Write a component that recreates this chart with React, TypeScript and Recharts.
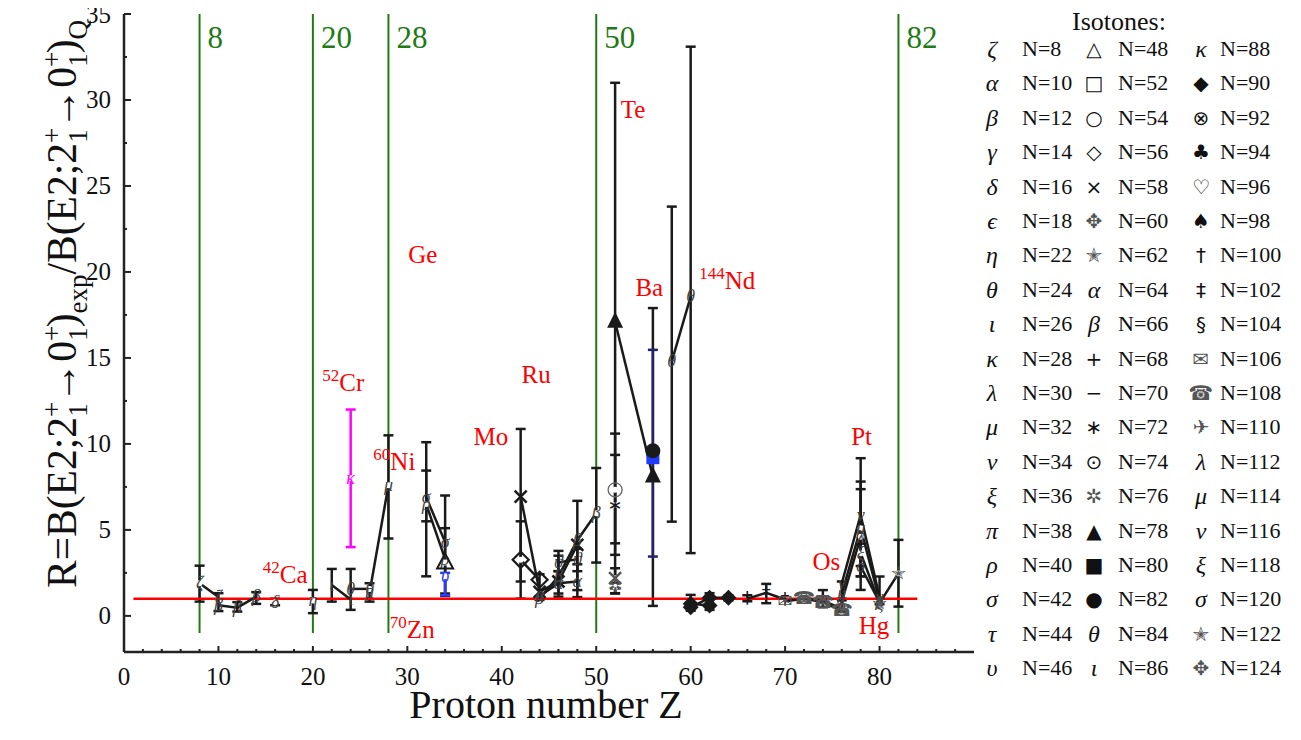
import React from 'react';
import { ComposedChart, Line, XAxis, YAxis, ErrorBar, ReferenceLine, ReferenceDot } from 'recharts';

const SERIF = '"Liberation Serif", "Times New Roman", serif';
const INK = '#1a1a1a';
const GREEN = '#217a14';

// [Z, R, error-bar low, error-bar high]
type Pt = [number, number, number?, number?];

// isotone chains
const chainN8: Pt[] = [[8, 1.9, 0.83, 2.92], [10, 1.1]];
const chainN10: Pt[] = [[10, 0.62, 0.28, 1.32], [12, 0.48, 0.25, 0.8], [14, 1.12, 0.7, 1.38]];
const pointN16: Pt[] = [[16, 0.8, 0.62, 1.0]];
const pointN22: Pt[] = [[20, 0.9, 0.16, 1.51]];
const chainN26: Pt[] = [[22, 1.8, 0.83, 2.73], [24, 0.95, 0.35, 2.73]];
const chainN24: Pt[] = [[24, 1.57], [26, 1.57, 0.83, 1.9]];
const chainN32: Pt[] = [[26, 1.35], [28, 7.6, 4.5, 10.5]];
const pointCr52: Pt[] = [[24, 8.0, 4.0, 12.0]];
const chainN42: Pt[] = [[32, 6.9, 2.3, 10.1], [34, 4.3, 1.16, 7.0]];
const chainN40: Pt[] = [[32, 6.5, 5.5, 8.45], [34, 3.3]];
const pointN48: Pt[] = [[34, 3.1, 1.3, 5.1]];
const pointN46: Pt[] = [[34, 2.3, 1.2, 2.5]];
const chainN58: Pt[] = [[42, 6.94, 1.0, 10.87], [44, 1.4, 0.93, 2.42], [46, 2.0, 1.12, 3.78], [48, 4.13, 1.09, 6.69]];
const chainN56: Pt[] = [[42, 3.26, 2.0, 5.5], [44, 2.1]];
const chainN66: Pt[] = [[44, 1.0], [46, 2.3], [48, 4.4], [50, 5.97, 3.1, 8.6]];
const chainN64: Pt[] = [[44, 1.15], [46, 1.9, 1.3, 2.6], [48, 2.0, 1.5, 3.0]];
const chainN62: Pt[] = [[46, 3.1, 2.6, 3.5], [48, 3.3, 2.6, 3.9]];
const chainN78: Pt[] = [[52, 17.1, 1.3, 31.0], [56, 8.1, 0.58, 17.9]];
const pointN54: Pt[] = [[52, 7.33, 4.22, 10.6]];
const pointN72: Pt[] = [[52, 6.45, 3.55, 9.36]];
const pointTe58: Pt[] = [[52, 2.19, 1.6, 2.77]];
const pointN76: Pt[] = [[52, 1.7, 1.32, 1.9]];
const pointN82: Pt[] = [[56, 9.6]];
const pointN80: Pt[] = [[56, 9.2, 3.45, 15.47]];
const chainN84: Pt[] = [[58, 14.8, 5.48, 23.8], [60, 18.56, 3.65, 33.1]];
const chainN90: Pt[] = [[60, 0.5, 0.3, 1.22], [62, 1.05, 0.6, 1.32], [64, 1.05, 0.9, 1.2]];
const chainN92: Pt[] = [[60, 0.7], [62, 0.6, 0.35, 1.0]];
const chainN100: Pt[] = [[66, 1.0, 0.85, 1.2], [68, 1.34, 0.74, 1.86], [70, 0.95]];
const chainN106: Pt[] = [[70, 0.85], [72, 1.0], [74, 0.9, 0.5, 1.5], [76, 0.4, 0.25, 0.9]];
const chainN108: Pt[] = [[72, 1.0], [74, 0.8], [76, 0.3]];
const chainN116: Pt[] = [[76, 1.9, 1.0, 2.0], [78, 5.87, 1.51, 9.17], [80, 1.1, 0.68, 2.29]];
const chainN114: Pt[] = [[76, 1.3], [78, 5.1, 2.3, 7.81], [80, 0.9]];
const chainN112: Pt[] = [[76, 0.83], [78, 4.6, 2.9, 7.37]];
const chainN118: Pt[] = [[78, 3.64, 2.3, 4.2], [80, 0.74]];
const chainN120: Pt[] = [[78, 2.87], [80, 0.8]];
const chainN122: Pt[] = [[80, 0.74], [82, 2.48, 0.54, 4.42]];

const chains = [
  { pts: chainN8, sym: 'ζ', color: '#444' },
  { pts: chainN10, sym: 'β', color: '#444' },
  { pts: pointN16, sym: 'δ', color: '#444' },
  { pts: pointN22, sym: 'η', color: '#444' },
  { pts: chainN26, sym: 'ι', color: '#444' },
  { pts: chainN24, sym: 'θ', color: '#444' },
  { pts: chainN32, sym: 'μ', color: '#444' },
  { pts: pointCr52, sym: 'κ', color: '#ff00ff' },
  { pts: chainN42, sym: 'σ', color: '#444' },
  { pts: chainN40, sym: 'ρ', color: '#444' },
  { pts: pointN48, sym: 'tri', color: INK },
  { pts: pointN46, sym: 'υ', color: '#2c3cff' },
  { pts: chainN58, sym: 'x', color: INK },
  { pts: chainN56, sym: 'dia', color: INK },
  { pts: chainN66, sym: 'β', color: '#444' },
  { pts: chainN64, sym: 'α', color: '#444' },
  { pts: chainN62, sym: 'ϑ', color: '#444' },
  { pts: chainN78, sym: 'triF', color: INK },
  { pts: pointN54, sym: 'circ', color: '#666' },
  { pts: pointN72, sym: '∗', color: INK },
  { pts: pointTe58, sym: 'x', color: '#555' },
  { pts: pointN76, sym: '✲', color: '#555' },
  { pts: pointN80, sym: 'sqF', color: '#1f3bff', bar: '#22226a' },
  { pts: pointN82, sym: 'circF', color: INK },
  { pts: chainN84, sym: 'θ', color: '#444' },
  { pts: chainN90, sym: 'diaF', color: INK },
  { pts: chainN92, sym: 'diaF', color: INK },
  { pts: chainN100, sym: '†', color: INK },
  { pts: chainN106, sym: '✉', color: '#555' },
  { pts: chainN108, sym: '☎', color: '#555' },
  { pts: chainN116, sym: 'ν', color: '#444' },
  { pts: chainN114, sym: 'μ', color: '#444' },
  { pts: chainN112, sym: 'λ', color: '#444' },
  { pts: chainN118, sym: 'ξ', color: '#444' },
  { pts: chainN120, sym: 'σ', color: '#444' },
  { pts: chainN122, sym: '✭', color: '#555' },
];

// magic numbers and annotations
const magicZ = [8, 20, 28, 50, 82];
const labelName = ['Te', 'Ge', 'Ba', 'Nd', 'Ru', 'Cr', 'Mo', 'Ni', 'Ca', 'Zn', 'Pt', 'Os', 'Hg'];
const labelMass = ['', '', '', '144', '', '52', '', '60', '42', '70', '', '', ''];
const labelZ = [52.6, 30.1, 54.15, 60.9, 42.1, 21.0, 37.0, 26.4, 14.7, 28.15, 77.0, 72.9, 77.8];
const labelR = [28.95, 20.5, 18.6, 19.0, 13.55, 13.1, 9.95, 8.5, 1.92, -1.28, 9.95, 2.67, -1.05];

const xTicks = Array.from({ length: 45 }, (_, i) => i * 2);
const yTicks = Array.from({ length: 15 }, (_, i) => i * 2.5);

// legend: three columns of isotones
const legendSym1 = ['ζ', 'α', 'β', 'γ', 'δ', 'ϵ', 'η', 'θ', 'ι', 'κ', 'λ', 'μ', 'ν', 'ξ', 'π', 'ρ', 'σ', 'τ', 'υ'];
const legendN1 = [8, 10, 12, 14, 16, 18, 22, 24, 26, 28, 30, 32, 34, 36, 38, 40, 42, 44, 46];
const legendSym2 = ['△', '□', '○', '◇', '×', '✥', '✭', 'α', 'β', '+', '−', '∗', '⊙', '✲', '▲', '■', '●', 'θ', 'ι'];
const legendN2 = [48, 52, 54, 56, 58, 60, 62, 64, 66, 68, 70, 72, 74, 76, 78, 80, 82, 84, 86];
const legendSym3 = ['κ', '◆', '⊗', '♣', '♡', '♠', '†', '‡', '§', '✉', '☎', '✈', 'λ', 'μ', 'ν', 'ξ', 'σ', '✭', '✥'];
const legendN3 = [88, 90, 92, 94, 96, 98, 100, 102, 104, 106, 108, 110, 112, 114, 116, 118, 120, 122, 124];

const isGreek = (s: string) => /[α-ωϵϑ]/.test(s);

const Sym = ({ cx, cy, s, color }: any) => {
  if (cx == null || cy == null || isNaN(cx) || isNaN(cy)) return null;
  switch (s) {
    case 'triF':
      return <polygon points={`${cx},${cy - 10} ${cx - 8},${cy + 6} ${cx + 8},${cy + 6}`} fill={color} />;
    case 'tri':
      return <polygon points={`${cx},${cy - 9} ${cx - 8},${cy + 6} ${cx + 8},${cy + 6}`} fill="none" stroke={color} strokeWidth={2} />;
    case 'circF':
      return <circle cx={cx} cy={cy} r={7.5} fill={color} />;
    case 'circ':
      return <circle cx={cx} cy={cy} r={7} fill="none" stroke={color} strokeWidth={1.3} />;
    case 'sqF':
      return <rect x={cx - 6.5} y={cy - 6.5} width={13} height={13} fill={color} />;
    case 'diaF':
      return <polygon points={`${cx},${cy - 8} ${cx + 8},${cy} ${cx},${cy + 8} ${cx - 8},${cy}`} fill={color} />;
    case 'dia':
      return <polygon points={`${cx},${cy - 8} ${cx + 8},${cy} ${cx},${cy + 8} ${cx - 8},${cy}`} fill="none" stroke={color} strokeWidth={2.2} />;
    case 'x':
      return <path d={`M${cx - 6},${cy - 6}L${cx + 6},${cy + 6}M${cx + 6},${cy - 6}L${cx - 6},${cy + 6}`} stroke={color} strokeWidth={2.5} />;
    default:
      return (
        <text x={cx} y={cy} dy="0.32em" textAnchor="middle" fontSize={18} fontStyle={isGreek(s) ? 'italic' : 'normal'}
          fill={color} fontFamily={isGreek(s) ? SERIF : '"DejaVu Sans", sans-serif'}>{s}</text>
      );
  }
};

const BottomTick = (p: any) => {
  const v = p.payload.value;
  const major = v % 10 === 0;
  return (
    <g>
      <line x1={p.x} x2={p.x} y1={p.y} y2={p.y - (major ? 6 : 3)} stroke="#222" strokeWidth={2} />
      {major && <text x={p.x} y={p.y + 33} textAnchor="middle" fontSize={25} fontFamily={SERIF} fill="#111">{v}</text>}
    </g>
  );
};

const TopTick = (p: any) => {
  const major = p.payload.value % 10 === 0;
  return <line x1={p.x} x2={p.x} y1={p.y} y2={p.y + (major ? 6 : 3)} stroke="#222" strokeWidth={2} />;
};

const LeftTick = (p: any) => {
  const v = p.payload.value;
  const major = v % 5 === 0;
  return (
    <g>
      <line x1={p.x} x2={p.x + (major ? 7 : 3)} y1={p.y} y2={p.y} stroke="#222" strokeWidth={2} />
      {major && <text x={p.x - 13} y={p.y} dy="0.34em" textAnchor="end" fontSize={25} fontFamily={SERIF} fill="#111">{v}</text>}
    </g>
  );
};

const RightTick = (p: any) => {
  const major = p.payload.value % 5 === 0;
  return <line x1={p.x} x2={p.x - (major ? 6 : 3)} y1={p.y} y2={p.y} stroke="#222" strokeWidth={2} />;
};

const XTitle = ({ viewBox }: any) => (
  <text x={viewBox.x + viewBox.width / 2 - 3} y={viewBox.y + 66} textAnchor="middle" fontSize={40} fontFamily={SERIF} fill="#111">
    Proton number Z
  </text>
);

const YTitle = () => {
  const x = 68;
  const y = 296;
  const big = 41.5;
  const sm = 27;
  const pair = (k: string) => [
    <tspan key={k + 'a'} fontSize={sm} dy={-15}>+</tspan>,
    <tspan key={k + 'b'} fontSize={sm} dx={-15} dy={26}>1</tspan>,
  ];
  return (
    <text transform={`rotate(-90, ${x}, ${y})`} x={x} y={y} textAnchor="middle" fontSize={big} fontFamily={SERIF} fill="#111">
      <tspan>R=B(E2;2</tspan>
      {pair('p1')}
      <tspan dy={-11} fontSize={big}>→0</tspan>
      {pair('p2')}
      <tspan dy={-11} fontSize={big}>)</tspan>
      <tspan dy={11} fontSize={sm}>exp</tspan>
      <tspan dy={-11} fontSize={big}>/B(E2;2</tspan>
      {pair('p3')}
      <tspan dy={-11} fontSize={big}>→0</tspan>
      {pair('p4')}
      <tspan dy={-11} fontSize={big}>)</tspan>
      <tspan dy={11} fontSize={sm}>Q</tspan>
    </text>
  );
};

const MagicLabel = ({ viewBox, text }: any) => (
  <text x={viewBox.x + 8} y={viewBox.y + 34} fontSize={31} fontFamily={SERIF} fill={GREEN}>{text}</text>
);

const RedLabel = ({ viewBox, name, mass }: any) => (
  <text x={viewBox.x} y={viewBox.y} fontSize={25} fontFamily={SERIF} fill="#ff0000">
    {mass && <tspan fontSize={17} dy={-10}>{mass}</tspan>}
    <tspan dy={mass ? 10 : 0}>{name}</tspan>
  </text>
);

const legendCols = [
  { syms: legendSym1, ns: legendN1, symX: 984, textX: 1014 },
  { syms: legendSym2, ns: legendN2, symX: 1086, textX: 1110 },
  { syms: legendSym3, ns: legendN3, symX: 1193, textX: 1212 },
];

export default function App() {
  return (
    <div style={{ position: 'relative', width: 1285, height: 720, fontFamily: SERIF, color: '#111' }}>
      <ComposedChart width={1285} height={720} margin={{ top: 6, right: 319, bottom: 0, left: 0 }}>
        <XAxis xAxisId={0} dataKey="z" type="number" domain={[0, 90]} allowDataOverflow ticks={xTicks} interval={0}
          tickSize={0} tickMargin={0} tickLine={false} tick={<BottomTick />} height={76}
          axisLine={{ stroke: '#222', strokeWidth: 2.5 }} label={<XTitle />} />
        <XAxis xAxisId="top" orientation="top" dataKey="z" type="number" domain={[0, 90]} allowDataOverflow ticks={xTicks}
          interval={0} tickSize={0} tickMargin={0} tickLine={false} tick={<TopTick />} height={0}
          axisLine={{ stroke: '#222', strokeWidth: 2.5 }} />
        <YAxis yAxisId={0} type="number" domain={[-2.1, 35]} allowDataOverflow ticks={yTicks} interval={0} width={116}
          tickSize={0} tickMargin={0} tickLine={false} tick={<LeftTick />}
          axisLine={{ stroke: '#222', strokeWidth: 2.5 }} label={<YTitle />} />
        <YAxis yAxisId="right" orientation="right" type="number" domain={[-2.1, 35]} allowDataOverflow ticks={yTicks}
          interval={0} width={0} tickSize={0} tickMargin={0} tickLine={false} tick={<RightTick />}
          axisLine={{ stroke: '#222', strokeWidth: 2.5 }} />

        {magicZ.map((z) => (
          <ReferenceLine key={'m' + z} segment={[{ x: z, y: -1 }, { x: z, y: 35 }]} stroke={GREEN} strokeWidth={2}
            label={<MagicLabel text={String(z)} />} />
        ))}

        {chains.map((c, i) => {
          const bars = c.pts
            .filter((p) => p[2] != null)
            .map(([z, r, lo, hi]) => ({ z, r, e: [r - (lo as number), (hi as number) - r] }));
          if (!bars.length) return null;
          const col = c.bar || (c.color === '#444' || c.color === '#555' || c.color === '#666' ? INK : c.color);
          return (
            <Line key={'b' + i} data={bars} dataKey="r" stroke="none" dot={false} activeDot={false}
              isAnimationActive={false} legendType="none">
              <ErrorBar dataKey="e" width={5} stroke={col} strokeWidth={2.5} direction="y" />
            </Line>
          );
        })}

        <ReferenceLine segment={[{ x: 1, y: 1 }, { x: 84, y: 1 }]} stroke="#ff0000" strokeWidth={2.5} />

        {chains.map((c, i) => (
          <Line key={'c' + i} data={c.pts.map(([z, r]) => ({ z, r }))} dataKey="r" type="linear" stroke={INK}
            strokeWidth={2.5} isAnimationActive={false} activeDot={false} legendType="none"
            dot={(p: any) => <Sym key={`d${i}-${p.index}`} cx={p.cx} cy={p.cy} s={c.sym} color={c.color} />} />
        ))}

        {labelName.map((n, i) => (
          <ReferenceDot key={'l' + i} x={labelZ[i]} y={labelR[i]} r={0} stroke="none" fill="none"
            label={<RedLabel name={n} mass={labelMass[i]} />} />
        ))}
      </ComposedChart>

      <div style={{ position: 'absolute', left: 1111, top: 14, transform: 'translate(-50%, -50%)', fontSize: 26, lineHeight: 1, whiteSpace: 'nowrap' }}>
        Isotones:
      </div>
      {legendCols.map((col, c) =>
        col.syms.map((s, i) => (
          <React.Fragment key={`lg${c}-${i}`}>
            <span style={{
              position: 'absolute', left: col.symX, top: 41 + 34.4 * i, transform: 'translate(-50%, -50%)',
              fontSize: isGreek(s) ? 24 : 20, lineHeight: 1, fontStyle: isGreek(s) ? 'italic' : 'normal',
              fontFamily: isGreek(s) ? SERIF : '"DejaVu Sans", sans-serif',
              color: /[✉☎✈✥✭✲]/.test(s) ? '#555' : '#111',
            }}>{s}</span>
            <span style={{
              position: 'absolute', left: col.textX, top: 41 + 34.4 * i, transform: 'translateY(-50%)',
              fontSize: 22, lineHeight: 1, whiteSpace: 'nowrap',
            }}>N={col.ns[i]}</span>
          </React.Fragment>
        ))
      )}
    </div>
  );
}
